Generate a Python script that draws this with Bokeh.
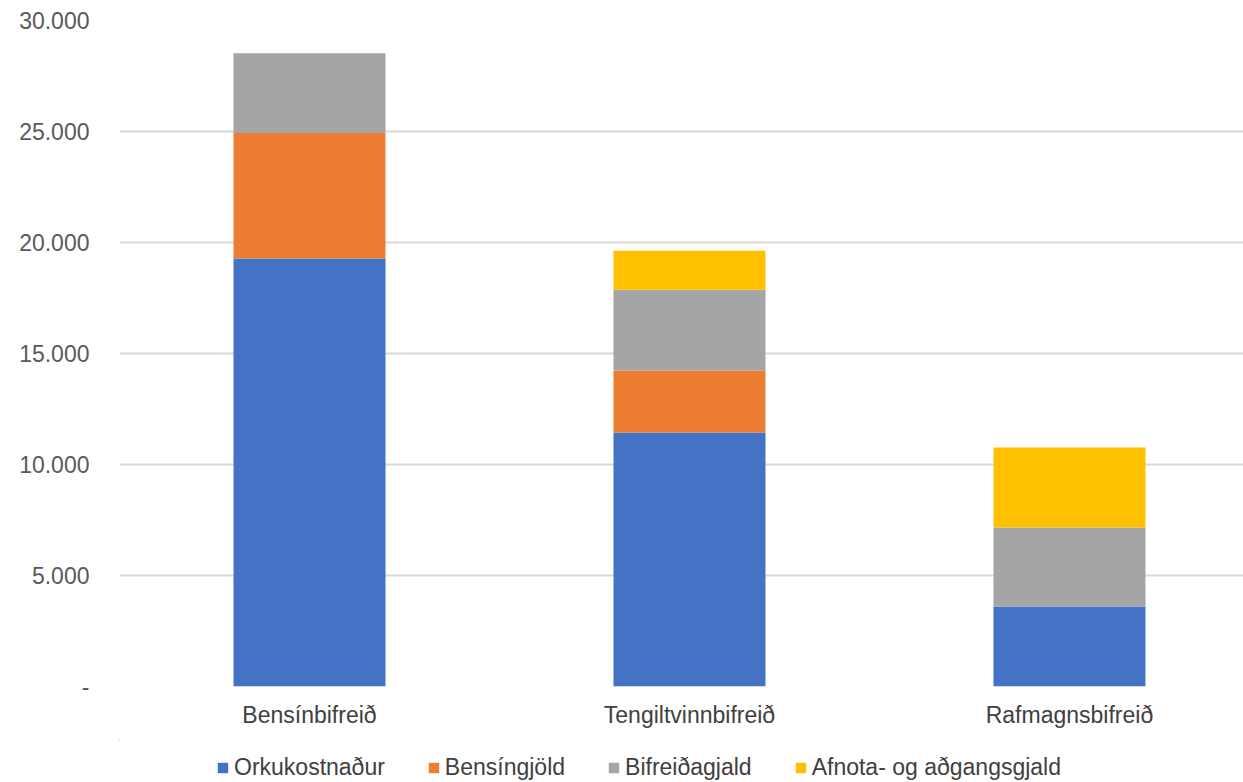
from bokeh.plotting import figure
from bokeh.models import ColumnDataSource, Legend, LegendItem, FixedTicker, Range1d
from bokeh.layouts import column
from bokeh.embed import file_html
from bokeh.resources import INLINE

categories = ["Bensínbifreið", "Tengiltvinnbifreið", "Rafmagnsbifreið"]
series = ["Orkukostnaður", "Bensíngjöld", "Bifreiðagjald", "Afnota- og aðgangsgjald"]
orkukostnadur = [19280, 11440, 3600]
bensingjold = [5650, 2790, 0]
bifreidagjald = [3600, 3640, 3560]
afnota = [0, 1760, 3610]
colors = ["#4472C4", "#ED7D31", "#A5A5A5", "#FFC000"]
y_ticks = [0, 5000, 10000, 15000, 20000, 25000, 30000]
y_tick_labels = ["-", "5.000", "10.000", "15.000", "20.000", "25.000", "30.000"]

xs = list(range(len(categories)))
src = ColumnDataSource(dict(x=xs, o=orkukostnadur, b=bensingjold, f=bifreidagjald, a=afnota))

FONT = "Liberation Sans"
p = figure(width=1243, height=740, output_backend="svg", toolbar_location=None,
           x_range=Range1d(-0.5, 2.458), y_range=Range1d(0, 30000),
           min_border_left=119, min_border_right=0, min_border_top=20, min_border_bottom=54)
p.outline_line_color = None
p.background_fill_color = "white"

rs = p.vbar_stack(["o", "b", "f", "a"], x="x", width=0.4, source=src,
                  color=colors, line_color=None)

p.xaxis.ticker = FixedTicker(ticks=xs)
p.xaxis.major_label_overrides = {i: c for i, c in enumerate(categories)}
p.xaxis.axis_line_color = None
p.xaxis.major_tick_line_color = None
p.xaxis.minor_tick_line_color = None
p.xaxis.major_tick_out = 0
p.xaxis.major_tick_in = 0
p.xaxis.major_label_text_font = FONT
p.xaxis.major_label_text_font_size = "23px"
p.xaxis.major_label_text_color = "#404040"
p.xaxis.major_label_standoff = 15

p.yaxis.ticker = FixedTicker(ticks=y_ticks)
p.yaxis.major_label_overrides = {t: l for t, l in zip(y_ticks, y_tick_labels)}
p.yaxis.axis_line_color = None
p.yaxis.major_tick_line_color = None
p.yaxis.minor_tick_line_color = None
p.yaxis.major_label_text_font = FONT
p.yaxis.major_label_text_font_size = "23px"
p.yaxis.major_label_text_color = "#595959"
p.yaxis.major_label_standoff = 24

p.xgrid.grid_line_color = None
p.ygrid.grid_line_color = "#D9D9D9"
p.ygrid.grid_line_width = 2

# Legend strip below the chart: same stacked series, drawn far outside its visible ranges
lg = figure(width=1243, height=42, output_backend="svg", toolbar_location=None,
            x_range=Range1d(1000, 1001), y_range=Range1d(-1e6, -1e6 + 1),
            min_border_left=119, min_border_right=0, min_border_top=0, min_border_bottom=0)
lg.axis.visible = False
lg.grid.visible = False
lg.outline_line_color = None
lr = lg.vbar_stack(["o", "b", "f", "a"], x="x", width=0.4, source=src,
                   color=colors, line_color=None)

legend = Legend(items=[LegendItem(label=s, renderers=[r]) for s, r in zip(series, lr)],
                orientation="horizontal", location=(97, 1),
                label_text_font=FONT, label_text_font_size="23px", label_text_color="#404040",
                glyph_width=13, glyph_height=13, label_standoff=5, spacing=42,
                border_line_color=None, background_fill_alpha=0, padding=0, margin=0)
lg.add_layout(legend)

open("out.html", "w").write(file_html(column(p, lg, spacing=0), INLINE))
